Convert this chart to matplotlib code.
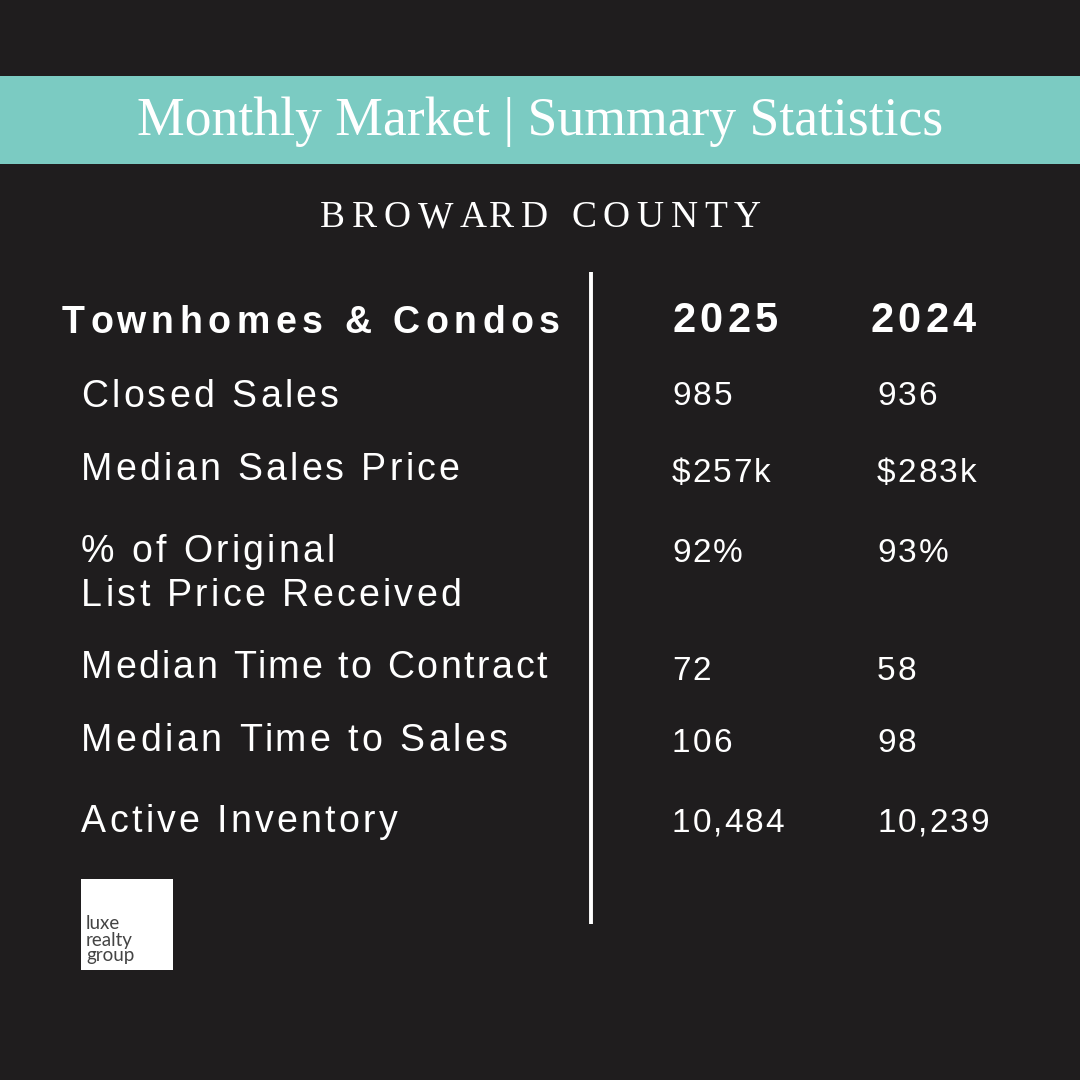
import matplotlib
matplotlib.use("Agg")
import matplotlib.pyplot as plt
from matplotlib.patches import Rectangle

title = "Monthly Market | Summary Statistics"
county = "BROWARD COUNTY"
header = "Townhomes & Condos"
years = ["2025", "2024"]
rows = ["Closed Sales", "Median Sales Price", "% of Original\nList Price Received",
        "Median Time to Contract", "Median Time to Sales", "Active Inventory"]
vals_2025 = ["985", "$257k", "92%", "72", "106", "10,484"]
vals_2024 = ["936", "$283k", "93%", "58", "98", "10,239"]
logo_lines = ["luxe", "realty", "group"]

BG = "#1f1d1e"
TEAL = "#7bcbc2"
SANS = "Liberation Sans"
SERIF = "Liberation Serif"


def text_w(ax, s, **kw):
    r = ax.figure.canvas.get_renderer()
    t = ax.text(0, 0, s, **kw)
    w = t.get_window_extent(r).width
    t.remove()
    return w


def spaced(ax, x, y, s, track, **kw):
    # no letter spacing in matplotlib, so place each glyph from the prefix width
    bar = text_w(ax, "|", **kw)
    for i, ch in enumerate(s):
        if ch != " ":
            off = text_w(ax, s[:i] + "|", **kw) - bar if i else 0
            ax.text(x + off + i * track, y, ch, va="baseline", ha="left", **kw)


fig = plt.figure(figsize=(10.8, 10.8), dpi=100, facecolor=BG)
ax = fig.add_axes([0, 0, 1, 1])
ax.set_xlim(0, 1080)
ax.set_ylim(1080, 0)
ax.axis("off")

ax.add_patch(Rectangle((0, 76), 1080, 88, color=TEAL, lw=0))
ax.text(540, 135, title, color="white", fontsize=38.6, family=SERIF, ha="center", va="baseline")
spaced(ax, 320, 227, county, 6.75, color="white", fontsize=27, family=SERIF)

ax.plot([591, 591], [272, 924], color="white", lw=2.8, solid_capstyle="butt")

bold = dict(color="white", family=SANS, weight="bold")
spaced(ax, 62, 333, header, 5.55, fontsize=27, **bold)
spaced(ax, 672, 332, years[0], 4.4, fontsize=30, **bold)
spaced(ax, 870, 332, years[1], 4.4, fontsize=30, **bold)

row_y = [407, 480, 562, 678, 751, 832]
val_y = [405, 482, 562, 680, 752, 832]
row_track = [3.35, 3.25, 3.3, 2.6, 3.45, 3.3]
plain = dict(color="white", family=SANS)
for name, a, b, y, vy, tr in zip(rows, vals_2025, vals_2024, row_y, val_y, row_track):
    for i, line in enumerate(name.split("\n")):
        spaced(ax, 81, y + i * 44, line, tr, fontsize=27, **plain)
    spaced(ax, 672, vy, a, 2.0, fontsize=24, **plain)
    spaced(ax, 877, vy, b, 2.0, fontsize=24, **plain)

ax.add_patch(Rectangle((81, 879), 92, 91, color="white", lw=0))
for line, y in zip(logo_lines, [929, 946, 961]):
    ax.text(86, y, line, color="#444444", fontsize=13.5, family="Lato", va="baseline")

fig.savefig("out.png", dpi=100, facecolor=BG)
